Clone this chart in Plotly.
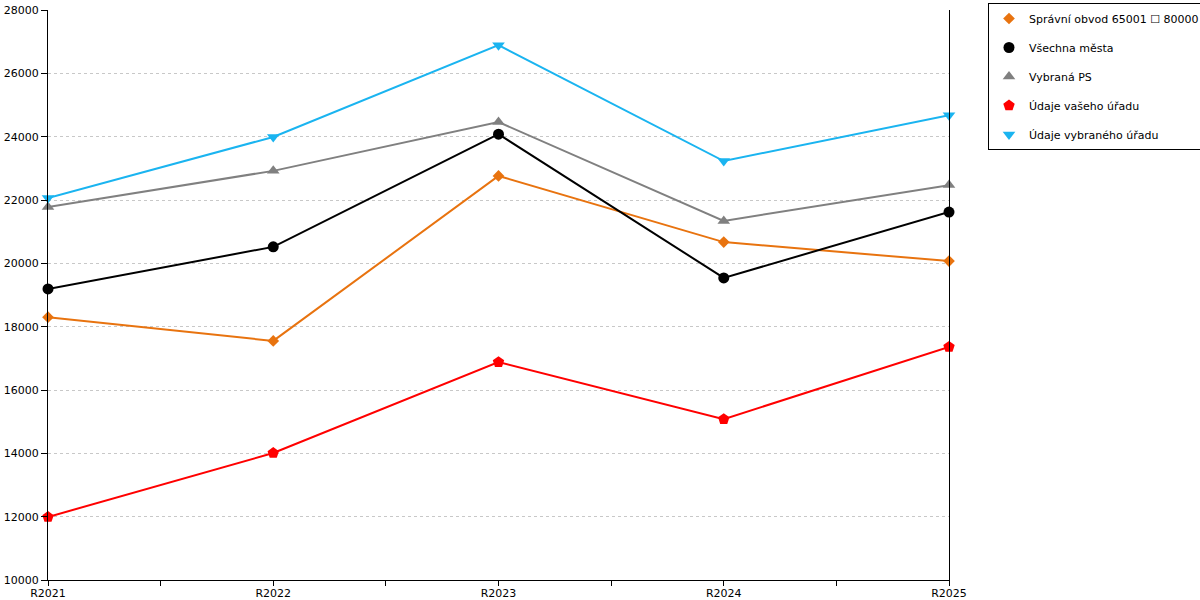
import plotly.graph_objects as go

categories = ["R2021", "R2022", "R2023", "R2024", "R2025"]
s_obvod = [18300, 17550, 22760, 20670, 20070]
s_mesta = [19190, 20520, 24080, 19540, 21620]
s_ps = [21780, 22920, 24460, 21340, 22470]
s_vas = [11990, 14010, 16880, 15080, 17360]
s_vybr = [22060, 23990, 26890, 23230, 24680]
y_ticks = list(range(10000, 28001, 2000))

series = [
    ("Správní obvod 65001 ☐ 80000", s_obvod, "#E8730F", "diamond", 9),
    ("Všechna města", s_mesta, "#000000", "circle", 11),
    ("Vybraná PS", s_ps, "#808080", "triangle-up", 11),
    ("Údaje vašeho úřadu", s_vas, "#FF0000", "pentagon", 12),
    ("Údaje vybraného úřadu", s_vybr, "#1AB4F0", "triangle-down", 11),
]

xs = list(range(len(categories)))
fig = go.Figure()
for name, vals, col, sym, sz in series:
    fig.add_trace(go.Scatter(x=xs, y=vals, mode="lines+markers", name=name,
                             line=dict(color=col, width=2),
                             marker=dict(symbol=sym, size=sz, color=col),
                             showlegend=False, cliponaxis=False))
for k, (name, vals, col, sym, sz) in enumerate(series):
    fig.add_trace(go.Scatter(x=[None], y=[None], mode="markers", name=name,
                             legendgroup="g%d" % k,
                             marker=dict(symbol=sym, size=sz, color=col)))

tickvals = []
ticktext = []
for i, c in enumerate(categories):
    tickvals.append(i)
    ticktext.append(c)
    if i < len(categories) - 1:
        tickvals.append(i + 0.5)
        ticktext.append("")

fig.update_layout(
    width=1200, height=600,
    margin=dict(l=48, r=251, t=10, b=20, autoexpand=False),
    plot_bgcolor="white", paper_bgcolor="white",
    font=dict(family="DejaVu Sans", size=11, color="#000"),
    legend=dict(x=(988 - 48) / 901, y=1 + 7 / 570, xanchor="left", yanchor="top",
                bordercolor="#000", borderwidth=1, font=dict(size=11),
                tracegroupgap=10, itemwidth=30),
    xaxis=dict(range=[0, 4], tickmode="array", tickvals=tickvals, ticktext=ticktext,
               ticks="outside", ticklen=5, tickcolor="#000", showline=True,
               linecolor="#000", linewidth=1, showgrid=False, zeroline=False,
               ticklabelstandoff=-2,
               automargin=False, tickfont=dict(size=11)),
    yaxis=dict(range=[10000, 28000], tickmode="array", tickvals=y_ticks,
               tickformat="d",
               ticks="outside", ticklen=6, tickcolor="#000", showline=True,
               linecolor="#000", linewidth=1, mirror=True, showgrid=True,
               gridcolor="#c8c8c8", griddash="dot", zeroline=False,
               automargin=False, tickfont=dict(size=11)),
)
fig.write_html("out.html", config={"displayModeBar": False},
               post_script="document.body.style.margin='0';document.body.style.overflow='hidden';")
